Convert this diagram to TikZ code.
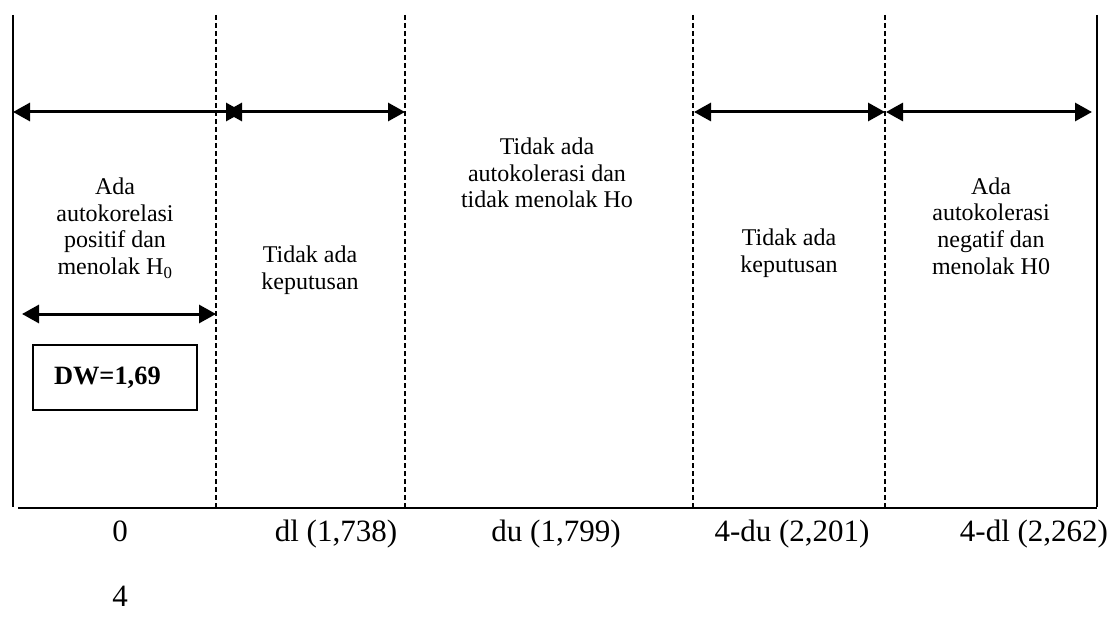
\documentclass[tikz,border=0pt]{standalone}
\usepackage{fontspec}
\setmainfont{Liberation Serif}
\usetikzlibrary{arrows.meta}
\tikzset{
  teks/.style={align=center,inner sep=0pt,font=\fontsize{24}{26.7}\selectfont},
  sumbu/.style={anchor=base,inner sep=0pt,font=\fontsize{31}{34}\selectfont},
  garis/.style={line width=2pt},
  batas/.style={line width=1.3pt,dash pattern=on 5pt off 3pt},
  panah/.style={line width=3pt,{Triangle[length=17pt,width=18pt]}-{Triangle[length=17pt,width=18pt]}}
}
\begin{document}
\begin{tikzpicture}[x=1pt,y=-1pt]
\useasboundingbox (0,0) rectangle (1112,623);
\coordinate (t0) at (13,15);   \coordinate (b0) at (13,507);
\coordinate (t1) at (216,15);  \coordinate (b1) at (216,507);
\coordinate (t2) at (405,15);  \coordinate (b2) at (405,507);
\coordinate (t3) at (693,15);  \coordinate (b3) at (693,507);
\coordinate (t4) at (885,15);  \coordinate (b4) at (885,507);
\coordinate (t5) at (1097,15); \coordinate (b5) at (1097,507);
\coordinate (s0) at (18,508);  \coordinate (s1) at (1097,508);
\draw[garis] (t0)--(b0);
\draw[garis] (t5)--(b5);
\draw[garis] (s0)--(s1);
\draw[batas] (t1)--(b1);
\draw[batas] (t2)--(b2);
\draw[batas] (t3)--(b3);
\draw[batas] (t4)--(b4);
\coordinate (p0) at (13,112);   \coordinate (p1) at (243,112);
\coordinate (p2) at (225,112);  \coordinate (p3) at (405,112);
\coordinate (p4) at (694,112);  \coordinate (p5) at (885,112);
\coordinate (p6) at (886,112);  \coordinate (p7) at (1092,112);
\draw[panah] (p0)--(p1);
\draw[panah] (p2)--(p3);
\draw[panah] (p4)--(p5);
\draw[panah] (p6)--(p7);
\coordinate (q0) at (22,314);   \coordinate (q1) at (216,314);
\draw[panah] (q0)--(q1);
\node[teks] (r1) at (115,228) {Ada\\autokorelasi\\positif dan\\menolak H\textsubscript{0}};
\node[teks] (r2) at (310,270) {Tidak ada\\keputusan};
\node[teks] (r3) at (547,173) {Tidak ada\\autokolerasi dan\\tidak menolak Ho};
\node[teks] (r4) at (789,253) {Tidak ada\\keputusan};
\node[teks] (r5) at (991,226) {Ada\\autokolerasi\\negatif dan\\menolak H0};
\node[draw,line width=1.5pt,minimum height=65pt,text width=122pt,inner xsep=21pt,align=left,
  font=\fontsize{26.4}{30}\selectfont\bfseries] (dw) at (115,377.5) {DW=1,69};
\node[sumbu] (l0) at (120,541) {0};
\node[sumbu] (l1) at (336,541) {dl (1,738)};
\node[sumbu] (l2) at (556,541) {du (1,799)};
\node[sumbu] (l3) at (792,541) {4-du (2,201)};
\node[sumbu] (l4) at (1034,541) {4-dl (2,262)};
\node[sumbu] (l5) at (120,606) {4};
\end{tikzpicture}
\end{document}
